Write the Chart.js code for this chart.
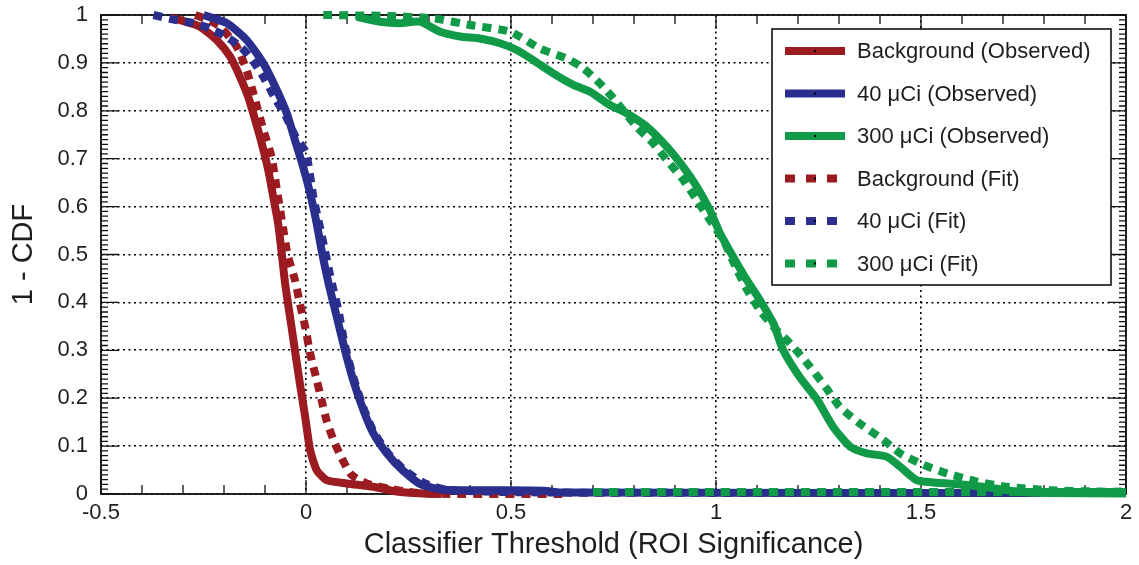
<!DOCTYPE html>
<html>
<head>
<meta charset="utf-8">
<script src="https://cdn.jsdelivr.net/npm/chart.js@4.4.1/dist/chart.umd.min.js"></script>
<style>
  html, body { margin: 0; padding: 0; background: #fff; }
</style>
</head>
<body>
<canvas id="grafico" width="1139" height="565"></canvas>
<script>
// Valores: [umbral, 1 - CDF]
const bgObserved = [
    [-0.33, 0.995], [-0.29, 0.985], [-0.259, 0.976], [-0.218, 0.948], [-0.185, 0.913],
    [-0.161, 0.871], [-0.141, 0.829], [-0.124, 0.781], [-0.108, 0.732], [-0.092, 0.676],
    [-0.08, 0.621], [-0.068, 0.565], [-0.06, 0.509], [-0.051, 0.44], [-0.039, 0.37],
    [-0.027, 0.30], [-0.015, 0.231], [-0.002, 0.161], [0.01, 0.092], [0.026, 0.05],
    [0.05, 0.029], [0.099, 0.022], [0.164, 0.015], [0.221, 0.005], [0.286, 0.001], [0.33, 0.0]
];
const c40Observed = [
    [-0.25, 1.0], [-0.193, 0.983], [-0.145, 0.948], [-0.104, 0.899], [-0.071, 0.843],
    [-0.047, 0.795], [-0.027, 0.739], [-0.007, 0.683], [0.01, 0.628], [0.026, 0.565],
    [0.038, 0.509], [0.055, 0.44], [0.075, 0.37], [0.095, 0.30], [0.115, 0.238],
    [0.14, 0.175], [0.164, 0.127], [0.197, 0.085], [0.235, 0.05], [0.28, 0.02],
    [0.335, 0.009], [0.45, 0.008], [0.58, 0.007], [0.62, 0.003], [1.97, 0.002]
];
const c300Observed = [
    [0.124, 0.996], [0.18, 0.986], [0.229, 0.983], [0.278, 0.986], [0.327, 0.965],
    [0.376, 0.955], [0.424, 0.951], [0.473, 0.941], [0.514, 0.927], [0.554, 0.906],
    [0.603, 0.878], [0.652, 0.854], [0.693, 0.84], [0.741, 0.812], [0.782, 0.795],
    [0.831, 0.767], [0.88, 0.725], [0.92, 0.683], [0.953, 0.642], [0.985, 0.593],
    [1.01, 0.544], [1.042, 0.495], [1.075, 0.447], [1.107, 0.405], [1.14, 0.356],
    [1.164, 0.30], [1.205, 0.243], [1.246, 0.198], [1.286, 0.14], [1.327, 0.099],
    [1.368, 0.085], [1.416, 0.078], [1.449, 0.057], [1.489, 0.029], [1.53, 0.024],
    [1.611, 0.019], [1.66, 0.014], [1.733, 0.005], [1.8, 0.002], [2.0, 0.001]
];
const bgFit = [
    [-0.27, 1.0], [-0.24, 0.99], [-0.21, 0.976], [-0.169, 0.934], [-0.145, 0.885],
    [-0.124, 0.823], [-0.104, 0.76], [-0.084, 0.704], [-0.071, 0.635], [-0.059, 0.572],
    [-0.045, 0.5], [-0.027, 0.447], [-0.015, 0.398], [-0.002, 0.349], [0.01, 0.294],
    [0.026, 0.238], [0.038, 0.196], [0.05, 0.154], [0.067, 0.113], [0.087, 0.075],
    [0.111, 0.04], [0.148, 0.022], [0.197, 0.012], [0.262, 0.003], [0.35, 0.0], [0.64, 0.0]
];
const c40Fit = [
    [-0.372, 1.0], [-0.32, 0.99], [-0.275, 0.983], [-0.234, 0.972], [-0.195, 0.955],
    [-0.161, 0.935], [-0.129, 0.904], [-0.1, 0.865], [-0.075, 0.825], [-0.05, 0.79],
    [-0.025, 0.745], [0.0, 0.712], [0.018, 0.62], [0.032, 0.565], [0.046, 0.509],
    [0.058, 0.46], [0.067, 0.426], [0.079, 0.384], [0.095, 0.31], [0.115, 0.245],
    [0.14, 0.18], [0.165, 0.13], [0.2, 0.085], [0.24, 0.05], [0.29, 0.022],
    [0.35, 0.008], [0.6, 0.003], [1.97, 0.002]
];
const c300Fit = [
    [0.042, 1.0], [0.2, 0.998], [0.31, 0.993], [0.4, 0.979], [0.498, 0.965],
    [0.571, 0.93], [0.636, 0.909], [0.676, 0.889], [0.717, 0.857], [0.75, 0.826],
    [0.806, 0.767], [0.847, 0.732], [0.88, 0.697], [0.92, 0.656], [0.953, 0.614],
    [0.985, 0.572], [1.018, 0.53], [1.05, 0.47], [1.08, 0.42], [1.11, 0.38],
    [1.148, 0.342], [1.18, 0.315], [1.229, 0.266], [1.27, 0.22], [1.302, 0.182],
    [1.351, 0.147], [1.408, 0.113], [1.449, 0.085], [1.506, 0.061], [1.563, 0.043],
    [1.636, 0.026], [1.709, 0.015], [1.815, 0.008], [1.937, 0.005], [2.0, 0.005]
];
// tramo plano del ajuste de 300 uCi sobre el eje
const c300FitTail = [[0.7, 0.004], [2.0, 0.004]];

const seriesLabels = [
    'Background (Observed)', '40 \u03bcCi (Observed)', '300 \u03bcCi (Observed)',
    'Background (Fit)', '40 \u03bcCi (Fit)', '300 \u03bcCi (Fit)'
];
const xTicks = [-0.5, 0, 0.5, 1, 1.5, 2];
const xTickLabels = ['-0.5', '0', '0.5', '1', '1.5', '2'];
const yTicks = [0, 0.1, 0.2, 0.3, 0.4, 0.5, 0.6, 0.7, 0.8, 0.9, 1];
const yTickLabels = ['0', '0.1', '0.2', '0.3', '0.4', '0.5', '0.6', '0.7', '0.8', '0.9', '1'];

const ROJO = 'rgb(155, 27, 32)';
const AZUL = 'rgb(42, 46, 140)';
const VERDE = 'rgb(17, 154, 72)';
const FUENTE = "'Liberation Sans', Arial, Helvetica, sans-serif";
const TEXTO = '#1e1e1e';
const GUION = [9, 7];

function aPuntos(pares) {
    return pares.map(p => ({ x: p[0], y: p[1] }));
}

function serie(label, pares, color, guion, orden) {
    return {
        label: label,
        data: aPuntos(pares),
        borderColor: color,
        backgroundColor: color,
        borderWidth: 8,
        borderDash: guion,
        borderCapStyle: 'butt',
        borderJoinStyle: 'round',
        showLine: true,
        pointRadius: 0,
        tension: 0.2,
        spanGaps: false,
        order: orden,
        clip: 8
    };
}

// Ajuste de 300 uCi con hueco antes del tramo plano
const c300FitData = c300Fit.concat([[2.0, null]], c300FitTail);

// Marco, marcas de los ejes y leyenda
const marcoPlugin = {
    id: 'marco',
    beforeDatasetsDraw(chart) {
        const ctx = chart.ctx;
        const a = chart.chartArea;
        const x = chart.scales.x;
        const y = chart.scales.y;
        ctx.save();
        ctx.strokeStyle = '#111';
        ctx.lineWidth = 1.3;
        ctx.setLineDash([]);
        ctx.beginPath();
        for (let v = -5; v <= 20; v++) {
            const px = x.getPixelForValue(v / 10);
            const largo = v % 5 === 0 ? 14 : 9;
            ctx.moveTo(px, a.bottom); ctx.lineTo(px, a.bottom - largo);
            ctx.moveTo(px, a.top); ctx.lineTo(px, a.top + largo);
        }
        for (let v = 0; v <= 100; v++) {
            const py = y.getPixelForValue(v / 100);
            const largo = v % 10 === 0 ? 18 : 7;
            ctx.moveTo(a.left, py); ctx.lineTo(a.left + largo, py);
            ctx.moveTo(a.right, py); ctx.lineTo(a.right - largo, py);
        }
        ctx.stroke();
        ctx.lineWidth = 1.8;
        ctx.strokeRect(a.left, a.top, a.right - a.left, a.bottom - a.top);
        ctx.restore();
    },
    afterDatasetsDraw(chart) {
        const ctx = chart.ctx;
        const a = chart.chartArea;
        const ancho = 339, alto = 256;
        const izq = a.right - 15 - ancho;
        const arriba = a.top + 14;
        ctx.save();
        ctx.fillStyle = '#fff';
        ctx.fillRect(izq, arriba, ancho, alto);
        ctx.strokeStyle = '#111';
        ctx.lineWidth = 1.6;
        ctx.setLineDash([]);
        ctx.strokeRect(izq, arriba, ancho, alto);
        ctx.font = '22px ' + FUENTE;
        ctx.textBaseline = 'middle';
        ctx.textAlign = 'left';
        seriesLabels.forEach(function (texto, i) {
            const ds = chart.data.datasets[i];
            const cy = arriba + 22 + i * 42.5;
            ctx.strokeStyle = ds.borderColor;
            ctx.lineWidth = 8;
            ctx.lineCap = 'butt';
            ctx.setLineDash(ds.borderDash.length ? [10, 11] : []);
            ctx.beginPath();
            ctx.moveTo(izq + 13, cy);
            ctx.lineTo(izq + 73, cy);
            ctx.stroke();
            ctx.setLineDash([]);
            ctx.fillStyle = '#000';
            ctx.fillRect(izq + 42, cy - 1, 2, 2);
            ctx.fillStyle = TEXTO;
            ctx.fillText(texto, izq + 85, cy + 1);
        });
        ctx.restore();
    }
};

const ctx = document.getElementById('grafico').getContext('2d');
const grafico = new Chart(ctx, {
    type: 'scatter',
    data: {
        datasets: [
            serie(seriesLabels[0], bgObserved, ROJO, [], 6),
            serie(seriesLabels[1], c40Observed, AZUL, [], 4),
            serie(seriesLabels[2], c300Observed, VERDE, [], 2),
            serie(seriesLabels[3], bgFit, ROJO, GUION, 5),
            serie(seriesLabels[4], c40Fit, AZUL, GUION, 3),
            serie(seriesLabels[5], c300FitData, VERDE, GUION, 1)
        ]
    },
    options: {
        responsive: false,
        animation: false,
        layout: { padding: { top: 15, right: 13, left: 0, bottom: 0 } },
        plugins: {
            legend: { display: false },
            tooltip: { enabled: false }
        },
        scales: {
            x: {
                type: 'linear',
                min: -0.5,
                max: 2,
                afterBuildTicks: function (scale) {
                    scale.ticks = xTicks.map(v => ({ value: v }));
                },
                afterFit: function (scale) { scale.height = 71; },
                grid: { color: '#000', lineWidth: 1.6, drawTicks: false },
                border: { display: false, dash: [2, 3.5] },
                ticks: {
                    padding: 6,
                    autoSkip: false,
                    maxRotation: 0,
                    color: TEXTO,
                    font: { family: FUENTE, size: 22 },
                    callback: function (v, i) { return xTickLabels[i]; }
                },
                title: {
                    display: true,
                    text: 'Classifier Threshold (ROI Significance)',
                    color: TEXTO,
                    font: { family: FUENTE, size: 29 },
                    padding: { top: 0, bottom: 3 }
                }
            },
            y: {
                type: 'linear',
                min: 0,
                max: 1,
                afterBuildTicks: function (scale) {
                    scale.ticks = yTicks.map(v => ({ value: v }));
                },
                afterFit: function (scale) {
                    scale.width = 101;
                    // las etiquetas pueden salir del area; el margen lo da layout.padding
                    scale.paddingTop = 0;
                    scale.paddingBottom = 0;
                },
                grid: { color: '#000', lineWidth: 1.6, drawTicks: false },
                border: { display: false, dash: [2, 3.5] },
                ticks: {
                    padding: 13,
                    autoSkip: false,
                    color: TEXTO,
                    font: { family: FUENTE, size: 22 },
                    callback: function (v, i) { return yTickLabels[i]; }
                },
                title: {
                    display: true,
                    text: '1 - CDF',
                    color: TEXTO,
                    font: { family: FUENTE, size: 29 },
                    padding: { top: 7, bottom: 0 }
                }
            }
        }
    },
    plugins: [marcoPlugin]
});
</script>
</body>
</html>
